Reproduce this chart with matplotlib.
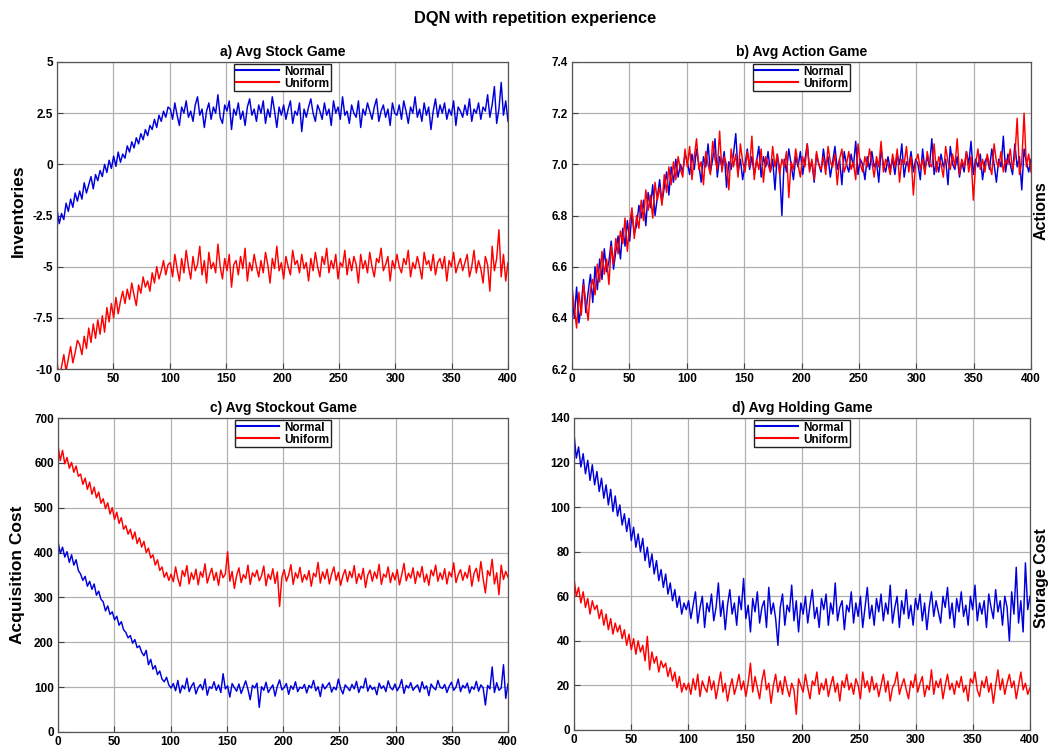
import numpy as np
import matplotlib
matplotlib.use("Agg")
import matplotlib.pyplot as plt

plt.rcParams['font.family'] = ['Liberation Sans', 'DejaVu Sans']
plt.rcParams['font.weight'] = 'bold'

# ---------------- data (200 samples over 0..400 episodes) ----------------
# a) Avg Stock Game, values in tenths
stock_normal = [
    -22, -29, -24, -27, -19, -23, -17, -21, -14, -18,
    -13, -17, -9, -14, -10, -6, -12, -5, -8, -3,
    -6, 0, -4, 2, -2, 4, -1, 6, 1, 5,
    3, 9, 6, 11, 8, 13, 10, 15, 12, 17,
    14, 19, 17, 22, 18, 24, 21, 26, 23, 28,
    27, 22, 30, 24, 19, 28, 25, 31, 23, 26,
    21, 29, 33, 24, 27, 18, 26, 30, 22, 28,
    25, 34, 23, 20, 29, 26, 31, 17, 27, 24,
    30, 22, 26, 19, 28, 32, 24, 27, 21, 29,
    25, 31, 20, 27, 23, 33, 26, 18, 28, 24,
    29, 22, 27, 31, 20, 26, 24, 30, 16, 27,
    23, 28, 32, 25, 21, 29, 26, 22, 30, 24,
    27, 19, 31, 25, 28, 22, 33, 24, 26, 20,
    29, 25, 23, 31, 18, 27, 24, 30, 26, 22,
    28, 32, 21, 26, 29, 23, 27, 19, 30, 25,
    24, 29, 22, 31, 26, 20, 28, 25, 33, 23,
    27, 21, 30, 24, 28, 17, 26, 32, 23, 29,
    25, 30, 22, 27, 24, 31, 19, 28, 26, 23,
    29, 24, 32, 21, 27, 25, 30, 22, 28, 26,
    34, 23, 29, 38, 20, 27, 40, 24, 31, 21]
stock_uniform = [
    -97, -104, -99, -93, -101, -95, -89, -97, -92, -86,
    -88, -93, -84, -90, -80, -87, -78, -85, -76, -83,
    -74, -82, -70, -77, -68, -75, -65, -73, -67, -62,
    -68, -61, -66, -58, -64, -69, -59, -63, -55, -60,
    -57, -62, -53, -58, -50, -56, -52, -47, -54, -49,
    -48, -55, -44, -51, -57, -46, -53, -42, -50, -56,
    -45, -52, -49, -40, -54, -47, -58, -43, -51, -48,
    -53, -39, -50, -56, -46, -52, -44, -60, -49, -47,
    -54, -45, -51, -41, -57, -48, -52, -44, -50, -55,
    -47, -53, -43, -49, -58, -46, -51, -40, -52, -48,
    -56, -45, -50, -54, -42, -49, -47, -53, -44, -51,
    -48, -57, -46, -52, -43, -50, -55, -45, -49, -41,
    -53, -47, -51, -44, -56, -48, -50, -42, -54, -46,
    -52, -45, -49, -58, -44, -51, -47, -53, -43, -50,
    -55, -46, -48, -41, -52, -49, -45, -57, -47, -51,
    -44, -50, -53, -46, -49, -42, -55, -48, -51, -45,
    -50, -56, -43, -49, -47, -52, -44, -54, -48, -46,
    -51, -45, -57, -47, -50, -43, -53, -49, -46, -52,
    -48, -44, -55, -50, -42, -53, -47, -51, -58, -45,
    -49, -62, -40, -52, -46, -32, -55, -44, -57, -48]

# b) Avg Action Game, values in hundredths
action_normal = [
    648, 640, 652, 638, 645, 655, 642, 650, 657, 646,
    660, 651, 663, 655, 667, 658, 662, 670, 659, 666,
    672, 663, 675, 668, 678, 670, 681, 673, 676, 684,
    679, 686, 676, 689, 683, 692, 680, 687, 694, 685,
    691, 697, 688, 699, 693, 702, 695, 700, 697, 704,
    701, 696, 704, 698, 706, 700, 693, 703, 699, 708,
    697, 702, 710, 695, 703, 699, 705, 691, 701, 698,
    704, 712, 697, 702, 694, 700, 706, 698, 703, 696,
    701, 707, 695, 703, 699, 705, 697, 702, 690, 704,
    698, 680, 702, 697, 706, 700, 694, 703, 699, 705,
    696, 702, 708, 698, 701, 693, 704, 700, 697, 706,
    699, 703, 695, 701, 707, 698, 702, 692, 705, 700,
    697, 704, 699, 709, 696, 702, 700, 694, 703, 698,
    705, 699, 701, 693, 706, 700, 697, 703, 698, 702,
    696, 704, 700, 708, 695, 701, 699, 705, 697, 702,
    700, 694, 706, 698, 703, 699, 710, 696, 701, 697,
    704, 699, 702, 692, 707, 700, 698, 703, 695, 701,
    697, 705, 700, 709, 696, 702, 699, 704, 694, 701,
    703, 698, 706, 700, 693, 702, 699, 711, 697, 704,
    700, 696, 708, 699, 703, 690, 706, 701, 697, 702]
action_uniform = [
    652, 644, 636, 650, 641, 653, 646, 639, 651, 655,
    649, 661, 654, 666, 657, 663, 653, 668, 661, 671,
    665, 674, 669, 679, 666, 677, 683, 671, 680, 675,
    686, 678, 690, 682, 688, 679, 693, 686, 691, 684,
    696, 689, 699, 692, 701, 694, 703, 698, 695, 706,
    699, 707, 694, 703, 710, 698, 701, 692, 705, 700,
    696, 709, 702, 698, 713, 697, 703, 700, 690, 706,
    699, 704, 695, 708, 701, 697, 705, 699, 711, 694,
    702, 698, 706, 693, 703, 700, 697, 707, 699, 704,
    696, 702, 699, 705, 687, 701, 698, 706, 700, 695,
    703, 699, 708, 697, 702, 694, 705, 700, 698, 703,
    696, 707, 701, 699, 704, 692, 702, 706, 697, 700,
    705, 698, 701, 694, 708, 700, 697, 703, 699, 706,
    701, 695, 703, 699, 709, 697, 702, 700, 696, 704,
    699, 706, 693, 702, 700, 707, 697, 703, 688, 701,
    704, 698, 702, 696, 705, 700, 699, 708, 697, 703,
    700, 695, 707, 701, 698, 704, 699, 710, 696, 702,
    699, 705, 697, 703, 686, 700, 706, 698, 702, 697,
    704, 700, 696, 708, 701, 699, 705, 697, 702, 700,
    706, 698, 703, 718, 696, 701, 720, 699, 704, 697]

# c) Avg Stockout Game
stockout_normal = [
    425, 398, 412, 390, 402, 378, 395, 372, 384, 360,
    352, 338, 347, 325, 336, 318, 330, 305, 314, 296,
    290, 270, 281, 262, 268, 250, 258, 238, 246, 228,
    222, 210, 215, 198, 206, 188, 192, 178, 170, 182,
    150, 162, 140, 148, 128, 136, 118, 112, 122, 105,
    98, 108, 92, 115, 87, 104, 96, 120, 90, 102,
    110, 85, 99, 106, 94, 118, 82, 101, 97, 112,
    93, 105, 88, 130, 96, 103, 78, 108, 99, 91,
    107, 86, 100, 114, 95, 72, 104, 98, 109, 55,
    101, 93, 111, 88, 97, 105, 80, 102, 116, 94,
    99, 108, 84, 103, 95, 112, 90, 100, 97, 106,
    87, 104, 98, 115, 92, 101, 79, 107, 96, 103,
    110, 89, 100, 94, 118, 97, 85, 105, 99, 92,
    106, 96, 113, 88, 102, 98, 120, 91, 104, 95,
    100, 83, 109, 97, 103, 90, 114, 99, 94, 107,
    92, 101, 117, 86, 104, 98, 110, 93, 100, 105,
    89, 112, 96, 103, 81, 107, 99, 94, 115, 100,
    97, 106, 88, 102, 111, 93, 100, 118, 90, 104,
    98, 109, 87, 101, 95, 113, 91, 105, 99, 60,
    104, 96, 145, 88, 110, 93, 98, 150, 75, 107]
stockout_uniform = [
    640, 605, 628, 598, 612, 588, 601, 579, 593, 570,
    575, 552, 566, 541, 557, 530, 546, 522, 535, 510,
    520, 498, 511, 486, 500, 474, 490, 465, 478, 452,
    460, 441, 452, 430, 446, 420, 433, 412, 425, 400,
    410, 388, 395, 372, 384, 360, 368, 345, 356, 338,
    352, 335, 368, 342, 325, 360, 347, 371, 330, 355,
    340, 363, 328, 357, 345, 375, 332, 350, 365, 338,
    356, 327, 361, 344, 352, 402, 336, 358, 320, 349,
    366, 333, 351, 342, 372, 329, 355, 346, 361, 337,
    348, 370, 326, 352, 340, 364, 331, 357, 280, 345,
    362, 336, 350, 373, 329, 355, 343, 367, 334, 351,
    339, 360, 325, 354, 346, 378, 332, 357, 341, 363,
    330, 352, 368, 338, 356, 327, 349, 362, 335, 358,
    344, 371, 331, 353, 340, 365, 322, 350, 361, 336,
    357, 342, 374, 329, 352, 345, 368, 333, 355, 339,
    362, 328, 350, 376, 337, 354, 343, 366, 331, 358,
    345, 369, 334, 352, 327, 361, 348, 372, 336, 355,
    340, 364, 330, 357, 346, 377, 333, 351, 362, 338,
    356, 343, 371, 325, 354, 365, 336, 380, 342, 310,
    360, 348, 385, 330, 355, 306, 372, 340, 358, 345]

# d) Avg Holding Game
holding_normal = [
    133, 122, 127, 118, 124, 115, 121, 112, 119, 110,
    116, 107, 113, 104, 110, 101, 108, 98, 105, 96,
    101, 92, 97, 89, 95, 85, 91, 82, 88, 80,
    86, 76, 82, 73, 79, 70, 76, 67, 72, 64,
    70, 61, 66, 58, 63, 55, 60, 52, 57, 54,
    58, 50, 56, 62, 48, 55, 60, 46, 57, 53,
    61, 49, 55, 66, 51, 58, 45, 56, 63, 52,
    57, 47, 60, 54, 68, 50, 56, 44, 59, 53,
    62, 48, 55, 58, 46, 64, 52, 57, 50, 38,
    55, 61, 47, 56, 53, 65, 49, 58, 44, 57,
    52, 60, 48, 56, 63, 50, 55, 46, 59, 54,
    61, 47, 57, 52, 66, 49, 55, 58, 45, 56,
    53, 62, 48, 57, 51, 60, 46, 55, 64, 50,
    56, 47, 59, 53, 61, 49, 57, 52, 65, 48,
    55, 60, 46, 58, 52, 63, 50, 56, 47, 59,
    54, 61, 49, 57, 45, 55, 62, 51, 58, 53,
    48, 60, 55, 64, 50, 57, 46, 59, 53, 62,
    51, 56, 47, 60, 54, 65, 49, 57, 52, 58,
    46, 61, 55, 50, 63, 53, 58, 47, 60, 55,
    40, 62, 52, 73, 48, 58, 44, 75, 54, 60]
holding_uniform = [
    68, 60, 64, 57, 62, 55, 59, 52, 58, 54,
    56, 50, 54, 47, 52, 45, 50, 43, 48, 44,
    47, 41, 45, 38, 43, 36, 41, 34, 40, 35,
    38, 31, 42, 27, 35, 30, 33, 26, 31, 28,
    30, 24, 28, 22, 26, 19, 24, 17, 21, 18,
    21, 16, 23, 18, 25, 15, 22, 19, 17, 24,
    18, 22, 14, 20, 26, 17, 21, 13, 19, 23,
    16, 20, 25, 18, 22, 15, 21, 30, 17, 24,
    19, 14, 22, 27, 18, 21, 12, 20, 25, 17,
    22, 16, 24, 19, 15, 21, 18, 7, 23, 20,
    17, 25, 19, 14, 22, 20, 26, 16, 21, 18,
    23, 15, 20, 24, 17, 21, 13, 22, 19, 25,
    18, 21, 16, 23, 20, 14, 26, 19, 22, 17,
    24, 18, 21, 15, 20, 25, 17, 22, 13, 19,
    21, 26, 16, 20, 23, 18, 14, 22, 19, 25,
    17, 21, 24, 15, 20, 18, 27, 16, 22, 19,
    23, 14, 20, 25, 18, 21, 16, 22, 19, 24,
    17, 20, 13, 23, 21, 26, 18, 15, 22, 19,
    24, 17, 21, 12, 20, 27, 18, 23, 16, 21,
    25, 19, 22, 14, 20, 26, 18, 21, 16, 19]

series_labels = ["Normal", "Uniform"]
titles = ["a) Avg Stock Game", "b) Avg Action Game",
          "c) Avg Stockout Game", "d) Avg Holding Game"]
ylabels = ["Inventories", "Actions", "Acquisition Cost", "Storage Cost"]
xticks = [0, 50, 100, 150, 200, 250, 300, 350, 400]
yticks_a = [-10, -7.5, -5, -2.5, 0, 2.5, 5]
yticks_b = [6.2, 6.4, 6.6, 6.8, 7.0, 7.2, 7.4]
yticks_c = [0, 100, 200, 300, 400, 500, 600, 700]
yticks_d = [0, 20, 40, 60, 80, 100, 120, 140]
ytick_labels_a = ["-10", "-7.5", "-5", "-2.5", "0", "2.5", "5"]
ytick_labels_b = ["6.2", "6.4", "6.6", "6.8", "7.0", "7.2", "7.4"]
suptitle = "DQN with repetition experience"

# ---------------- plotting ----------------
fig = plt.figure(figsize=(10.49, 7.52), dpi=100)
W, H = 1049, 752

def ax_at(l, t, r, b):
    return fig.add_axes([l / W, 1 - b / H, (r - l) / W, (b - t) / H])

axA = ax_at(57, 62, 508, 369)
axB = ax_at(572, 62, 1031, 369)
axC = ax_at(58, 418, 508, 732)
axD = ax_at(574, 418, 1030, 730)

n = len(stock_normal)
x = np.linspace(0, 400, n)

panels = [
    (axA, np.array(stock_normal) / 10, np.array(stock_uniform) / 10, (-10, 5), yticks_a, ytick_labels_a),
    (axB, np.array(action_normal) / 100, np.array(action_uniform) / 100, (6.2, 7.4), yticks_b, ytick_labels_b),
    (axC, np.array(stockout_normal), np.array(stockout_uniform), (0, 700), yticks_c, [str(v) for v in yticks_c]),
    (axD, np.array(holding_normal), np.array(holding_uniform), (0, 140), yticks_d, [str(v) for v in yticks_d]),
]

for (ax, yn, yu, ylim, yt, ytl), title in zip(panels, titles):
    ax.plot(x, yn, color='#0000dd', lw=1.05, label=series_labels[0])
    ax.plot(x, yu, color='#ff0000', lw=1.05, label=series_labels[1])
    ax.set_xlim(0, 400)
    ax.set_ylim(*ylim)
    ax.set_xticks(xticks)
    ax.set_xticklabels([str(v) for v in xticks])
    ax.set_yticks(yt)
    ax.set_yticklabels(ytl)
    ax.grid(True, color='#b0b0b0', lw=0.9, ls='-')
    ax.set_axisbelow(True)
    ax.tick_params(direction='in', length=4, width=0.8, labelsize=8.5, pad=3,
                   color='#404040')
    for lab in ax.get_xticklabels() + ax.get_yticklabels():
        lab.set_fontweight('bold')
    for sp in ax.spines.values():
        sp.set_color('#555555')
        sp.set_linewidth(0.9)
    ax.set_title(title, fontsize=10, fontweight='bold', pad=4)
    leg = ax.legend(loc='upper center', bbox_to_anchor=(0.5, 1.0), fontsize=8.5,
                    handlelength=3.6, handletextpad=0.45, borderpad=0.15,
                    labelspacing=0.0, borderaxespad=0.15, fancybox=False,
                    framealpha=1, edgecolor='#222222')
    leg.get_frame().set_linewidth(1.0)
    for t in leg.get_texts():
        t.set_fontweight('bold')
    for h in leg.get_lines():
        h.set_linewidth(1.5)

fig.text(535 / W, 1 - 18 / H, suptitle, ha='center', va='center',
         fontsize=11.8, fontweight='bold')
fig.text(18 / W, 1 - 211 / H, ylabels[0], rotation=90, ha='center', va='center',
         fontsize=12.5, fontweight='bold')
fig.text(18 / W, 1 - 575 / H, ylabels[2], rotation=90, ha='center', va='center',
         fontsize=12.5, fontweight='bold')
fig.text(1034 / W, 1 - 211 / H, ylabels[1], rotation=90, ha='left', va='center',
         fontsize=11.5, fontweight='bold')
fig.text(1034 / W, 1 - 578 / H, ylabels[3], rotation=90, ha='left', va='center',
         fontsize=11.5, fontweight='bold')

fig.savefig("out.png", dpi=100)
